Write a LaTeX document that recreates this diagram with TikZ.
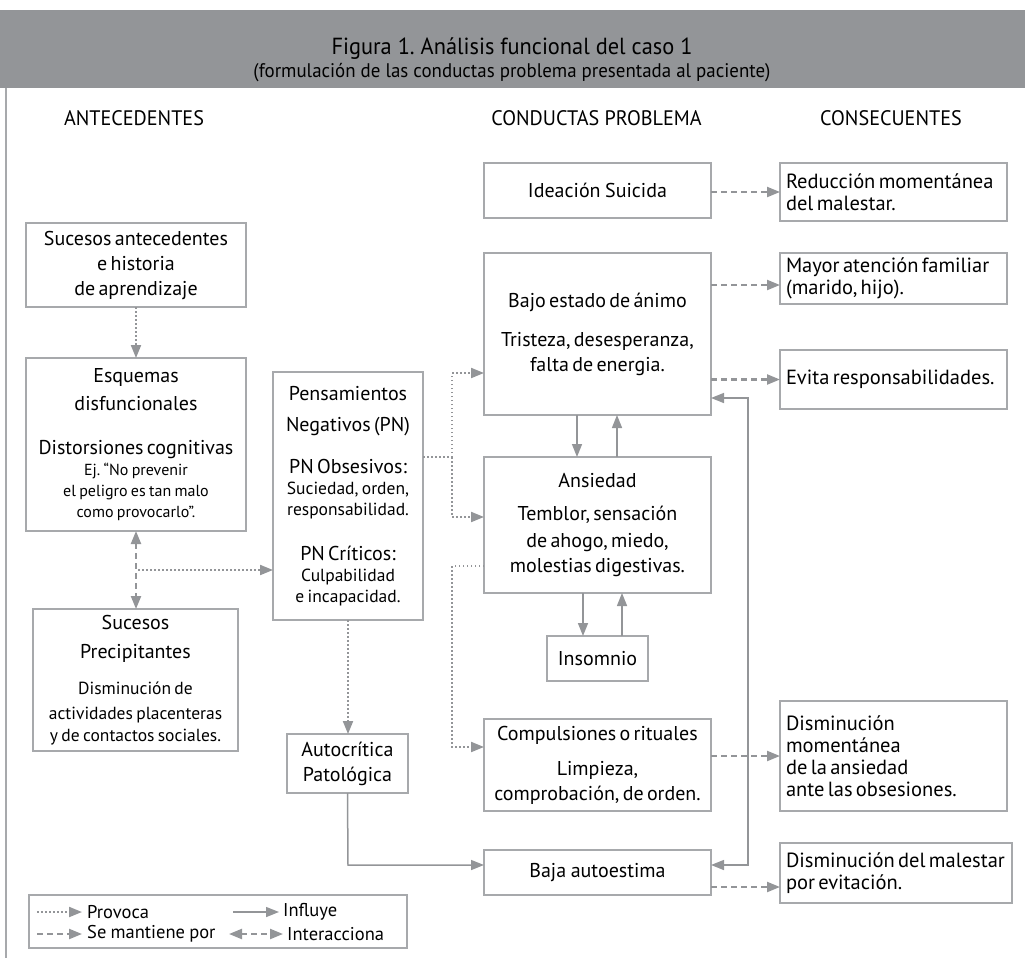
\documentclass[tikz,border=0pt]{standalone}
\usepackage{fontspec}
\setmainfont[WordSpace=0.85]{PT Sans}
\newfontfamily\condfont[FakeStretch=0.96]{PT Sans}
\usetikzlibrary{arrows.meta}
\definecolor{band}{HTML}{939598}
\definecolor{boxline}{HTML}{A7A9AC}
\definecolor{arr}{HTML}{939598}
\newcommand\szA{\fontsize{20}{25}\selectfont}
\newcommand\szE{\fontsize{16}{21}\selectfont}
\newcommand\szP{\fontsize{17.5}{21}\selectfont}
\newcommand\szS{\fontsize{17.5}{22}\selectfont}
\newcommand\szC{\fontsize{20.5}{22}\selectfont}
\frenchspacing
\tikzset{
  box/.style={draw=boxline, line width=1.2pt, inner sep=0pt, outer sep=0pt, align=center},
  lbox/.style={draw=boxline, line width=1.2pt, inner sep=0pt, outer sep=0pt, align=left},
  tipA/.tip={Triangle[length=13pt,width=10pt]},
  provoca/.style={draw=arr, line width=2pt, dash pattern=on 1.5pt off 2.5pt, -tipA},
  dotline/.style={draw=arr, line width=2pt, dash pattern=on 1.5pt off 2.5pt},
  mantiene/.style={draw=arr, line width=2.2pt, dash pattern=on 6pt off 4pt, -tipA},
  interac/.style={draw=arr, line width=2.2pt, dash pattern=on 6pt off 4pt, tipA-tipA},
  influye/.style={draw=arr, line width=1.5pt, -tipA},
  influyeboth/.style={draw=arr, line width=1.5pt, tipA-tipA},
  hdr/.style={font=\condfont\fontsize{21}{24}\selectfont, inner sep=0pt},
  legtext/.style={font=\fontsize{18.5}{20}\selectfont, inner sep=0pt, anchor=west},
}
\begin{document}
\begin{tikzpicture}[x=1pt,y=-1pt]
\useasboundingbox (0,0) rectangle (1025,958);
% header
\fill[band] (0,10) rectangle (1025,88);
\draw[boxline, line width=1.2pt] (6,88) -- (6,958);
\node[inner sep=0pt, font=\condfont\fontsize{23.3}{26}\selectfont] (title) at (512,49) {Figura 1. Análisis funcional del caso 1};
\node[inner sep=0pt, font=\condfont\fontsize{19.7}{22}\selectfont] (subtitle) at (512,73) {(formulación de las conductas problema presentada al paciente)};
\node[hdr] (hA) at (134,118) {ANTECEDENTES};
\node[hdr] (hB) at (596.5,118) {CONDUCTAS PROBLEMA};
\node[hdr] (hC) at (891,118) {CONSECUENTES};

% left column
\node[box, minimum width=220pt, minimum height=84pt, text width=216pt] (sucant) at (136,265)
  {\szA Sucesos antecedentes\\ e historia\\ de aprendizaje\par};
\node[box, minimum width=220pt, minimum height=173pt, text width=216pt] (esquemas) at (136,444.5)
  {\szA Esquemas\\[3pt] disfuncionales\\[19pt] Distorsiones cognitivas\\ \szE Ej. “No prevenir\\ el peligro es tan malo\\ como provocarlo”.\par};
\node[box, minimum width=205pt, minimum height=142pt, text width=201pt] (sucprec) at (135.5,680)
  {\szA Sucesos\\[4pt] Precipitantes\\[14pt] \szS Disminución de\\[3pt] actividades placenteras\\ y de contactos sociales.\par};
\node[box, minimum width=150pt, minimum height=248pt, text width=148pt] (pens) at (348,496)
  {\szA Pensamientos\\[6pt] Negativos (PN)\\[17pt] PN Obsesivos:\\ \szP Suciedad, orden,\\ responsabilidad.\\[20pt] \szA PN Críticos:\\ \szP Culpabilidad\\ e incapacidad.\par};
\node[box, minimum width=121pt, minimum height=59pt, text width=117pt] (autocrit) at (347.5,763.5)
  {\szA Autocrítica\\ Patológica\par};

% middle column
\node[box, minimum width=227pt, minimum height=55pt, font=\szA] (ideacion) at (597.5,190.5) {Ideación Suicida};
\node[box, minimum width=227pt, minimum height=162pt, text width=222pt] (bajo) at (597.5,334)
  {\szA Bajo estado de ánimo\\[14pt] Tristeza, desesperanza,\\ falta de energia.\par\vspace{-6pt}};
\node[box, minimum width=227pt, minimum height=136pt, text width=222pt] (ansiedad) at (597.5,525)
  {\szA Ansiedad\\[8pt] Temblor, sensación\\[2pt] de ahogo, miedo,\\ molestias digestivas.\par};
\node[box, minimum width=101pt, minimum height=45pt, font=\szA] (insomnio) at (597.5,658.5) {Insomnio};
\node[box, minimum width=227pt, minimum height=92pt, text width=222pt] (compul) at (597.5,765)
  {\szA Compulsiones o rituales\\[10pt] Limpieza,\\ comprobación, de orden.\par};
\node[box, minimum width=227pt, minimum height=45pt, font=\szA] (baja) at (597.5,872.5) {Baja autoestima};

% right column
\node[lbox, minimum width=227pt, minimum height=58pt, text width=215pt] (reduccion) at (893.5,192)
  {\szC Reducción momentánea\\ del malestar.\par};
\node[lbox, minimum width=227pt, minimum height=51pt, text width=215pt] (mayor) at (893.5,278.5)
  {\szC Mayor atención familiar\\ (marido, hijo).\par};
\node[lbox, minimum width=227pt, minimum height=59pt, text width=215pt] (evita) at (893.5,379.5)
  {\szC Evita responsabilidades.\par};
\node[lbox, minimum width=227pt, minimum height=110pt, text width=215pt] (dismom) at (893.5,756)
  {\szC Disminución\\ momentánea\\ de la ansiedad\\ ante las obsesiones.\par};
\node[lbox, minimum width=232pt, minimum height=60pt, text width=220pt] (dismal) at (896,873)
  {\szC Disminución del malestar\\ por evitación.\par};

% coordinates
\coordinate (m1) at (138,570);
\coordinate (j1) at (452,457);
\coordinate (jt) at (452,373);
\coordinate (jb) at (452,517);
\coordinate (k1) at (452,566);
\coordinate (k2) at (452,747);
\coordinate (b1) at (348,865);
\coordinate (r1) at (748,398);
\coordinate (r2) at (748,865);
\coordinate (yM) at (0,285);
\coordinate (yD) at (0,887);

% connectors: provoca
\draw[provoca] (sucant.south) -- (esquemas.north);
\draw[interac] (esquemas.south) -- (esquemas.south |- sucprec.north);
\draw[provoca] (m1) -- (m1 -| pens.west);
\draw[dotline] (pens.east |- j1) -- (j1);
\draw[provoca] (j1) -- (jt) -- (jt -| bajo.west);
\draw[provoca] (j1) -- (jb) -- (jb -| ansiedad.west);
\draw[provoca] (k1 -| ansiedad.west) -- (k1) -- (k2) -- (k2 -| compul.west);
\draw[provoca] (pens.south) -- (pens.south |- autocrit.north);

% influye
\draw[influye] (autocrit.south) -- (b1) -- (b1 -| baja.west);
\draw[influye] ([xshift=-20.5pt]bajo.south) -- ([xshift=-20.5pt]ansiedad.north);
\draw[influye] ([xshift=19.5pt]ansiedad.north) -- ([xshift=19.5pt]bajo.south);
\draw[influye] ([xshift=-14.5pt]ansiedad.south) -- ([xshift=-14.5pt]insomnio.north);
\draw[influye] ([xshift=24.5pt]insomnio.north) -- ([xshift=24.5pt]ansiedad.south);
\draw[influyeboth] (r1 -| bajo.east) -- (r1) -- (r2) -- (r2 -| baja.east);

% se mantiene por
\draw[mantiene] (ideacion.east |- reduccion.west) -- (reduccion.west);
\draw[mantiene] (bajo.east |- yM) -- (mayor.west |- yM);
\draw[mantiene] (bajo.east |- evita.west) -- (evita.west);
\draw[mantiene] (compul.east |- dismom.west) -- (dismom.west);
\draw[mantiene] (baja.east |- yD) -- (dismal.west |- yD);

% legend
\node[draw=boxline, line width=1.2pt, minimum width=378pt, minimum height=53pt, inner sep=0pt] (legend) at (218,921.5) {};
\coordinate (l1a) at (37,912); \coordinate (l1b) at (82,912);
\coordinate (l2a) at (37,934); \coordinate (l2b) at (82,934);
\coordinate (l3a) at (233,912); \coordinate (l3b) at (279,912);
\coordinate (l4a) at (229,934); \coordinate (l4b) at (283,934);
\draw[provoca] (l1a) -- (l1b);
\draw[mantiene] (l2a) -- (l2b);
\draw[influye] (l3a) -- (l3b);
\draw[interac] (l4a) -- (l4b);
\node[legtext] (lt1) at (87,912) {Provoca};
\node[legtext] (lt2) at (87,934) {Se mantiene por};
\node[legtext] (lt3) at (283,912) {Influye};
\node[legtext] (lt4) at (287,934) {Interacciona};
\end{tikzpicture}
\end{document}
